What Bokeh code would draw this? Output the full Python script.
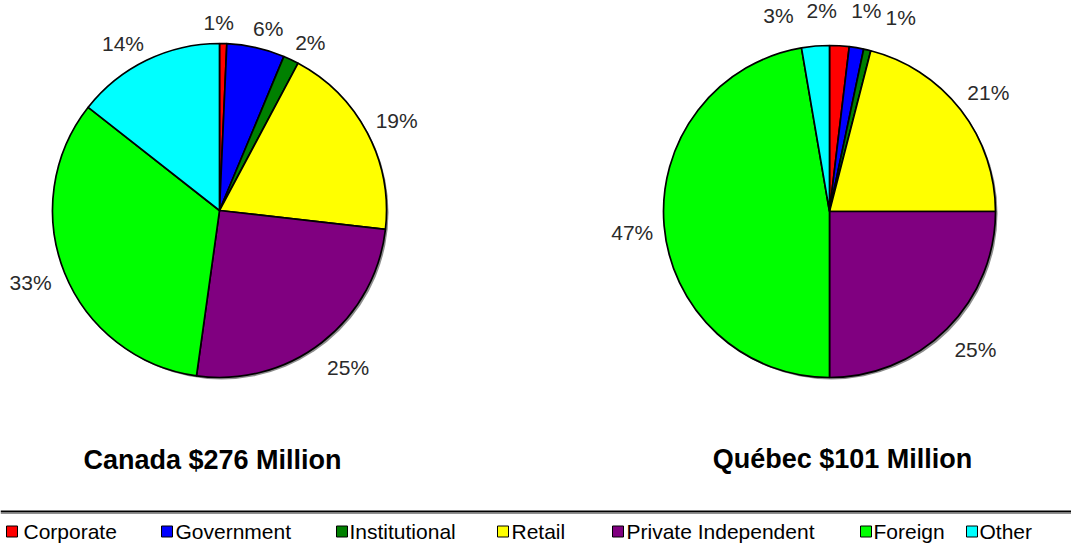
import math
from bokeh.plotting import figure
from bokeh.models import Range1d, ColumnDataSource
from bokeh.core.properties import value
from bokeh.embed import file_html
from bokeh.resources import INLINE

# ---------------- data ----------------
categories = ["Corporate", "Government", "Institutional", "Retail",
              "Private Independent", "Foreign", "Other"]
canada_share = [0.7, 5.6, 1.5, 19.0, 25.4, 33.4, 14.4]
quebec_share = [1.9, 1.4, 0.7, 21.0, 25.0, 47.3, 2.7]
titles = ["Canada $276 Million", "Québec $101 Million"]

# ---------------- style / layout ----------------
colors = ["#ff0000", "#0000ff", "#008000", "#ffff00", "#800080", "#00ff00", "#00ffff"]
W, H = 1071, 552
FONT = "Liberation Sans"

pies = [
    dict(cx=219, cy=H - 210, r=167, title_x=212, title_y=H - 459,
         nudge=[(-5, 1), (7, 5), (8, 7), (2, 2), (9, 3), (-5, -2), (-12, 7)]),
    dict(cx=829, cy=H - 211, r=166, title_x=842, title_y=H - 458,
         nudge=[(-19, -13), (6, -14), (28, -9), (4, 1), (8, 0), (0, 4), (-35, -8)]),
]
legend_sq_x = [6, 161, 336, 497, 612, 860, 966]
legend_tx_x = [23, 175, 349, 511, 626, 873, 979]
legend_y = H - 531

p = figure(width=W, height=H, x_range=Range1d(0, W), y_range=Range1d(0, H),
           output_backend="svg", toolbar_location=None, min_border=0,
           x_axis_location=None, y_axis_location=None)
p.xgrid.visible = False
p.ygrid.visible = False
p.outline_line_color = None
p.background_fill_color = "white"
p.border_fill_color = "white"

for shares, cfg, title in zip([canada_share, quebec_share], pies, titles):
    cx, cy, r = cfg["cx"], cfg["cy"], cfg["r"]
    total = sum(shares)
    starts, ends, lx, ly, texts = [], [], [], [], []
    cum = 0.0
    for i, v in enumerate(shares):
        a0 = cum / total
        cum += v
        a1 = cum / total
        starts.append(math.pi / 2 - 2 * math.pi * a0)
        ends.append(math.pi / 2 - 2 * math.pi * a1)
        mid = 2 * math.pi * (a0 + a1) / 2  # clockwise from top
        s, c = math.sin(mid), math.cos(mid)
        rl = r + 22 + 10 * abs(s)
        nx, ny = cfg["nudge"][i]
        lx.append(cx + rl * s + nx)
        ly.append(cy + rl * c - ny)
        texts.append(f"{round(v / total * 100)}%")
    # shadow
    p.circle(x=cx + 2, y=cy - 2, radius=r, fill_color="#8c8c8c", line_color=None)
    src = ColumnDataSource(dict(start=starts, end=ends, color=colors, cat=categories))
    p.wedge(x=cx, y=cy, radius=r, start_angle="start", end_angle="end",
            direction="clock", fill_color="color", line_color="black",
            line_width=1.7, source=src)
    lsrc = ColumnDataSource(dict(x=lx, y=ly, t=texts))
    p.text(x="x", y="y", text="t", source=lsrc, text_align="center",
           text_baseline="middle", text_font=value(FONT), text_font_size="21px",
           text_color="#2a2a2a")
    p.text(x=[cfg["title_x"]], y=[cfg["title_y"]], text=[title], text_align="center",
           text_baseline="middle", text_font=value(FONT), text_font_size="27px",
           text_font_style="bold", text_color="black")

# legend separator
p.segment(x0=[0], y0=[H - 511], x1=[W], y1=[H - 511], line_color="black", line_width=2)
p.segment(x0=[0], y0=[H - 513], x1=[W], y1=[H - 513], line_color="#909090", line_width=1)

# legend
p.rect(x=[x + 5.5 for x in legend_sq_x], y=[legend_y] * len(categories), width=11, height=11,
       fill_color=colors, line_color="black", line_width=1)
p.text(x=legend_tx_x, y=[legend_y] * len(categories), text=categories, text_align="left",
       text_baseline="middle", text_font=value(FONT), text_font_size="21px",
       text_color="black")

open("out.html", "w").write(file_html(p, INLINE))
